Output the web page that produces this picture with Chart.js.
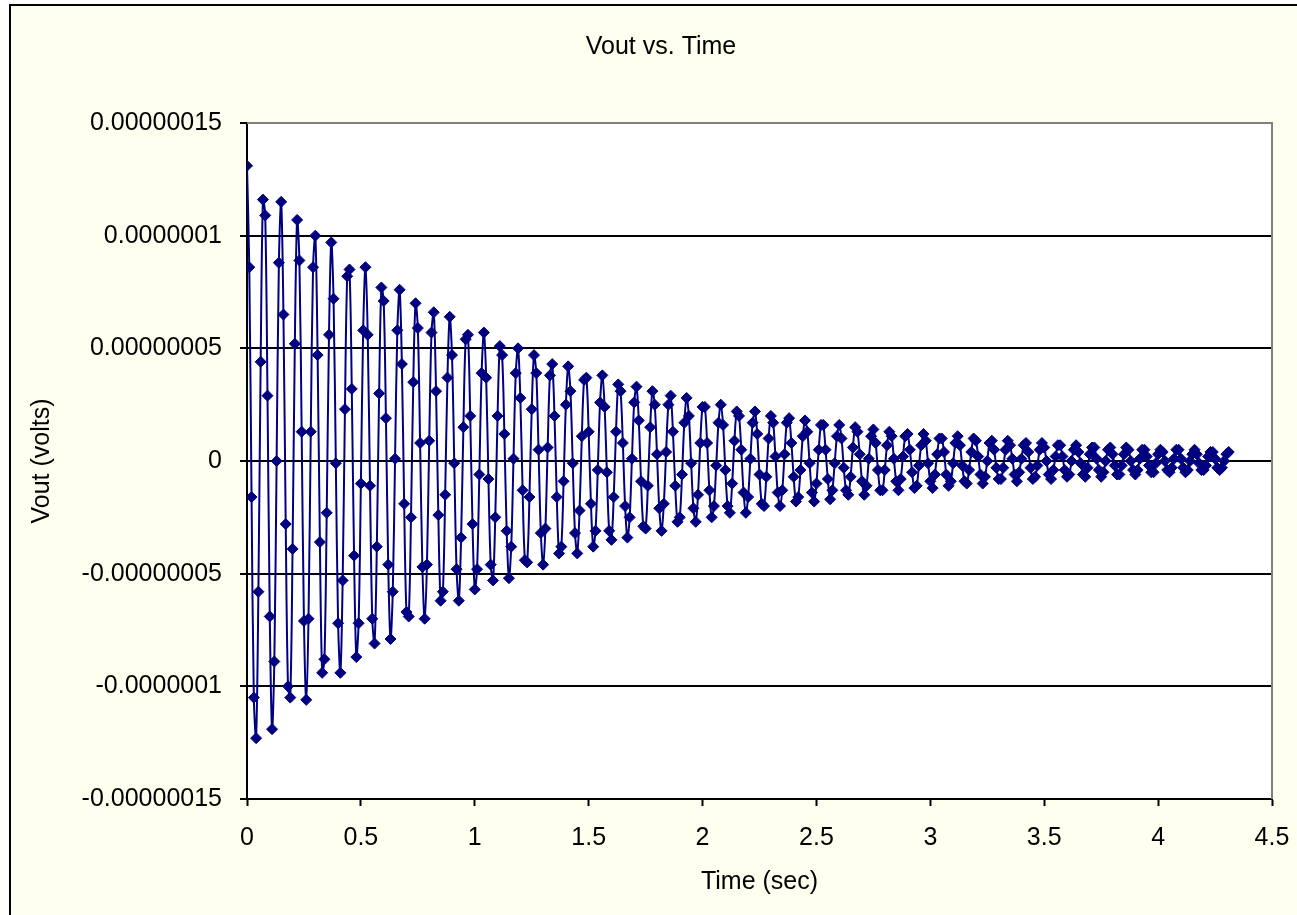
<!DOCTYPE html>
<html lang="en">
<head>
<meta charset="utf-8">
<title>Vout vs. Time</title>
<script src="https://cdn.jsdelivr.net/npm/chart.js@4.4.1/dist/chart.umd.min.js"></script>
<style>
  html, body { margin: 0; padding: 0; background: #ffffff; overflow: hidden; width: 1297px; height: 915px; }
  #frame {
    position: absolute; left: 9px; top: 4px;
    width: 1286px; height: 909px;
    border-left: 2px solid #000000;
    border-top: 2px solid #000000;
    background: #fffff0;
    overflow: hidden;
  }
  #chart { display: block; }
</style>
</head>
<body>
<div id="frame"><canvas id="chart" width="1300" height="930"></canvas></div>
<script>
// Sample times (s), one reading every 10 ms
const timeSec = [
  0, 0.01, 0.02, 0.03, 0.04, 0.05, 0.06, 0.07, 0.08, 0.09,
  0.1, 0.11, 0.12, 0.13, 0.14, 0.15, 0.16, 0.17, 0.18, 0.19,
  0.2, 0.21, 0.22, 0.23, 0.24, 0.25, 0.26, 0.27, 0.28, 0.29,
  0.3, 0.31, 0.32, 0.33, 0.34, 0.35, 0.36, 0.37, 0.38, 0.39,
  0.4, 0.41, 0.42, 0.43, 0.44, 0.45, 0.46, 0.47, 0.48, 0.49,
  0.5, 0.51, 0.52, 0.53, 0.54, 0.55, 0.56, 0.57, 0.58, 0.59,
  0.6, 0.61, 0.62, 0.63, 0.64, 0.65, 0.66, 0.67, 0.68, 0.69,
  0.7, 0.71, 0.72, 0.73, 0.74, 0.75, 0.76, 0.77, 0.78, 0.79,
  0.8, 0.81, 0.82, 0.83, 0.84, 0.85, 0.86, 0.87, 0.88, 0.89,
  0.9, 0.91, 0.92, 0.93, 0.94, 0.95, 0.96, 0.97, 0.98, 0.99,
  1, 1.01, 1.02, 1.03, 1.04, 1.05, 1.06, 1.07, 1.08, 1.09,
  1.1, 1.11, 1.12, 1.13, 1.14, 1.15, 1.16, 1.17, 1.18, 1.19,
  1.2, 1.21, 1.22, 1.23, 1.24, 1.25, 1.26, 1.27, 1.28, 1.29,
  1.3, 1.31, 1.32, 1.33, 1.34, 1.35, 1.36, 1.37, 1.38, 1.39,
  1.4, 1.41, 1.42, 1.43, 1.44, 1.45, 1.46, 1.47, 1.48, 1.49,
  1.5, 1.51, 1.52, 1.53, 1.54, 1.55, 1.56, 1.57, 1.58, 1.59,
  1.6, 1.61, 1.62, 1.63, 1.64, 1.65, 1.66, 1.67, 1.68, 1.69,
  1.7, 1.71, 1.72, 1.73, 1.74, 1.75, 1.76, 1.77, 1.78, 1.79,
  1.8, 1.81, 1.82, 1.83, 1.84, 1.85, 1.86, 1.87, 1.88, 1.89,
  1.9, 1.91, 1.92, 1.93, 1.94, 1.95, 1.96, 1.97, 1.98, 1.99,
  2, 2.01, 2.02, 2.03, 2.04, 2.05, 2.06, 2.07, 2.08, 2.09,
  2.1, 2.11, 2.12, 2.13, 2.14, 2.15, 2.16, 2.17, 2.18, 2.19,
  2.2, 2.21, 2.22, 2.23, 2.24, 2.25, 2.26, 2.27, 2.28, 2.29,
  2.3, 2.31, 2.32, 2.33, 2.34, 2.35, 2.36, 2.37, 2.38, 2.39,
  2.4, 2.41, 2.42, 2.43, 2.44, 2.45, 2.46, 2.47, 2.48, 2.49,
  2.5, 2.51, 2.52, 2.53, 2.54, 2.55, 2.56, 2.57, 2.58, 2.59,
  2.6, 2.61, 2.62, 2.63, 2.64, 2.65, 2.66, 2.67, 2.68, 2.69,
  2.7, 2.71, 2.72, 2.73, 2.74, 2.75, 2.76, 2.77, 2.78, 2.79,
  2.8, 2.81, 2.82, 2.83, 2.84, 2.85, 2.86, 2.87, 2.88, 2.89,
  2.9, 2.91, 2.92, 2.93, 2.94, 2.95, 2.96, 2.97, 2.98, 2.99,
  3, 3.01, 3.02, 3.03, 3.04, 3.05, 3.06, 3.07, 3.08, 3.09,
  3.1, 3.11, 3.12, 3.13, 3.14, 3.15, 3.16, 3.17, 3.18, 3.19,
  3.2, 3.21, 3.22, 3.23, 3.24, 3.25, 3.26, 3.27, 3.28, 3.29,
  3.3, 3.31, 3.32, 3.33, 3.34, 3.35, 3.36, 3.37, 3.38, 3.39,
  3.4, 3.41, 3.42, 3.43, 3.44, 3.45, 3.46, 3.47, 3.48, 3.49,
  3.5, 3.51, 3.52, 3.53, 3.54, 3.55, 3.56, 3.57, 3.58, 3.59,
  3.6, 3.61, 3.62, 3.63, 3.64, 3.65, 3.66, 3.67, 3.68, 3.69,
  3.7, 3.71, 3.72, 3.73, 3.74, 3.75, 3.76, 3.77, 3.78, 3.79,
  3.8, 3.81, 3.82, 3.83, 3.84, 3.85, 3.86, 3.87, 3.88, 3.89,
  3.9, 3.91, 3.92, 3.93, 3.94, 3.95, 3.96, 3.97, 3.98, 3.99,
  4, 4.01, 4.02, 4.03, 4.04, 4.05, 4.06, 4.07, 4.08, 4.09,
  4.1, 4.11, 4.12, 4.13, 4.14, 4.15, 4.16, 4.17, 4.18, 4.19,
  4.2, 4.21, 4.22, 4.23, 4.24, 4.25, 4.26, 4.27, 4.28, 4.29,
  4.3, 4.31
];

// Output voltage (V) at each sample time
const vout = [
  131e-9, 86e-9, -16e-9, -105e-9, -123e-9, -58e-9, 44e-9, 116e-9, 109e-9, 29e-9, -69e-9, -119e-9, -89e-9, 0, 88e-9,
  115e-9, 65e-9, -28e-9, -100e-9, -105e-9, -39e-9, 52e-9, 107e-9, 89e-9, 13e-9, -71e-9, -106e-9, -70e-9, 13e-9, 86e-9,
  100e-9, 47e-9, -36e-9, -94e-9, -88e-9, -23e-9, 56e-9, 97e-9, 72e-9, -1e-9, -72e-9, -94e-9, -53e-9, 23e-9, 82e-9,
  85e-9, 32e-9, -42e-9, -87e-9, -72e-9, -10e-9, 58e-9, 86e-9, 56e-9, -11e-9, -70e-9, -81e-9, -38e-9, 30e-9, 77e-9,
  71e-9, 19e-9, -46e-9, -79e-9, -58e-9, 1e-9, 58e-9, 76e-9, 43e-9, -19e-9, -67e-9, -69e-9, -25e-9, 35e-9, 70e-9,
  59e-9, 8e-9, -47e-9, -70e-9, -46e-9, 9e-9, 57e-9, 66e-9, 31e-9, -24e-9, -62e-9, -58e-9, -15e-9, 37e-9, 64e-9,
  47e-9, -1e-9, -48e-9, -62e-9, -34e-9, 15e-9, 54e-9, 56e-9, 20e-9, -28e-9, -57e-9, -48e-9, -6e-9, 39e-9, 57e-9,
  37e-9, -8e-9, -46e-9, -53e-9, -25e-9, 20e-9, 51e-9, 47e-9, 12e-9, -31e-9, -52e-9, -38e-9, 1e-9, 39e-9, 50e-9,
  28e-9, -13e-9, -44e-9, -45e-9, -16e-9, 23e-9, 47e-9, 39e-9, 5e-9, -32e-9, -46e-9, -30e-9, 6e-9, 38e-9, 43e-9,
  20e-9, -16e-9, -41e-9, -38e-9, -9e-9, 25e-9, 42e-9, 31e-9, -1e-9, -32e-9, -41e-9, -22e-9, 11e-9, 36e-9, 37e-9,
  13e-9, -19e-9, -38e-9, -31e-9, -4e-9, 26e-9, 38e-9, 24e-9, -5e-9, -31e-9, -35e-9, -16e-9, 13e-9, 34e-9, 31e-9,
  8e-9, -20e-9, -34e-9, -25e-9, 1e-9, 26e-9, 33e-9, 18e-9, -9e-9, -29e-9, -30e-9, -11e-9, 15e-9, 31e-9, 25e-9,
  3e-9, -21e-9, -31e-9, -19e-9, 4e-9, 25e-9, 29e-9, 13e-9, -11e-9, -27e-9, -25e-9, -6e-9, 17e-9, 28e-9, 20e-9,
  -1e-9, -21e-9, -27e-9, -15e-9, 8e-9, 24e-9, 24e-9, 8e-9, -13e-9, -25e-9, -20e-9, -2e-9, 17e-9, 25e-9, 16e-9,
  -4e-9, -20e-9, -23e-9, -10e-9, 9e-9, 22e-9, 20e-9, 5e-9, -14e-9, -23e-9, -16e-9, 1e-9, 17e-9, 22e-9, 12e-9,
  -6e-9, -19e-9, -20e-9, -7e-9, 10e-9, 20e-9, 17e-9, 2e-9, -14e-9, -20e-9, -13e-9, 3e-9, 17e-9, 19e-9, 8e-9,
  -7e-9, -18e-9, -16e-9, -4e-9, 11e-9, 18e-9, 13e-9, -1e-9, -14e-9, -18e-9, -10e-9, 5e-9, 16e-9, 16e-9, 5e-9,
  -8e-9, -17e-9, -13e-9, -1e-9, 11e-9, 16e-9, 10e-9, -3e-9, -13e-9, -15e-9, -7e-9, 6e-9, 15e-9, 13e-9, 3e-9,
  -9e-9, -15e-9, -11e-9, 1e-9, 11e-9, 14e-9, 8e-9, -4e-9, -13e-9, -13e-9, -4e-9, 7e-9, 13e-9, 11e-9, 1e-9,
  -9e-9, -13e-9, -8e-9, 2e-9, 11e-9, 12e-9, 5e-9, -5e-9, -12e-9, -11e-9, -2e-9, 7e-9, 12e-9, 9e-9, -1e-9,
  -9e-9, -12e-9, -6e-9, 3e-9, 10e-9, 10e-9, 4e-9, -6e-9, -11e-9, -9e-9, -1e-9, 8e-9, 11e-9, 7e-9, -2e-9,
  -9e-9, -10e-9, -4e-9, 4e-9, 10e-9, 9e-9, 2e-9, -6e-9, -10e-9, -7e-9, 0, 8e-9, 9e-9, 5e-9, -3e-9,
  -8e-9, -8e-9, -3e-9, 5e-9, 9e-9, 7e-9, 1e-9, -6e-9, -9e-9, -5e-9, 1e-9, 7e-9, 8e-9, 4e-9, -3e-9,
  -8e-9, -7e-9, -2e-9, 5e-9, 8e-9, 6e-9, 0, -6e-9, -8e-9, -4e-9, 2e-9, 7e-9, 7e-9, 2e-9, -4e-9,
  -7e-9, -6e-9, 0, 5e-9, 7e-9, 4e-9, -1e-9, -6e-9, -7e-9, -3e-9, 3e-9, 6e-9, 6e-9, 1e-9, -4e-9,
  -7e-9, -5e-9, 0, 5e-9, 6e-9, 3e-9, -2e-9, -6e-9, -6e-9, -2e-9, 3e-9, 6e-9, 5e-9, 0, -4e-9,
  -6e-9, -4e-9, 1e-9, 5e-9, 5e-9, 2e-9, -2e-9, -5e-9, -5e-9, -1e-9, 3e-9, 5e-9, 4e-9, 0, -4e-9,
  -5e-9, -3e-9, 1e-9, 5e-9, 5e-9, 1e-9, -3e-9, -5e-9, -4e-9, 0, 3e-9, 5e-9, 3e-9, -1e-9, -4e-9,
  -4e-9, -2e-9, 2e-9, 4e-9, 4e-9, 1e-9, -3e-9, -4e-9, -3e-9, 0, 3e-9, 4e-9
];

const xTickLabels = ['0', '0.5', '1', '1.5', '2', '2.5', '3', '3.5', '4', '4.5'];
const yTickLabels = ['-0.00000015', '-0.0000001', '-0.00000005', '0', '0.00000005', '0.0000001', '0.00000015'];

const FONT_FAMILY = '"Liberation Sans", Arial, Helvetica, sans-serif';
const LINE_COLOR = '#000080';

Chart.defaults.font.family = FONT_FAMILY;
Chart.defaults.font.size = 25;
Chart.defaults.color = '#000000';

// White plot area with a grey frame on its top and right sides
const plotFrame = {
  id: 'plotFrame',
  beforeDraw(chart) {
    const { ctx, chartArea: a } = chart;
    ctx.save();
    ctx.fillStyle = '#ffffff';
    ctx.fillRect(a.left, a.top, a.right - a.left, a.bottom - a.top);
    ctx.restore();
  },
  beforeDatasetsDraw(chart) {
    const { ctx, chartArea: a } = chart;
    ctx.save();
    ctx.strokeStyle = '#808080';
    ctx.lineWidth = 2;
    ctx.beginPath();
    ctx.moveTo(a.left, a.top);
    ctx.lineTo(a.right, a.top);
    ctx.lineTo(a.right, a.bottom);
    ctx.stroke();
    ctx.restore();
  }
};

const points = timeSec.map((t, i) => ({ x: t, y: vout[i] }));

new Chart(document.getElementById('chart'), {
  type: 'line',
  data: {
    datasets: [{
      label: 'Vout',
      data: points,
      xAxisID: 'x',
      yAxisID: 'y',
      borderColor: LINE_COLOR,
      borderWidth: 2,
      tension: 0.33,
      fill: false,
      pointStyle: 'rectRot',
      pointRadius: 5.5,
      pointBackgroundColor: LINE_COLOR,
      pointBorderColor: LINE_COLOR,
      pointBorderWidth: 1
    }]
  },
  options: {
    responsive: false,
    animation: false,
    devicePixelRatio: 1,
    layout: { padding: { top: 0, left: 0, right: 0, bottom: 27 } },
    plugins: {
      legend: { display: false },
      tooltip: { enabled: false },
      title: {
        display: true,
        text: 'Vout vs. Time',
        color: '#000000',
        font: { size: 25, weight: 'normal' },
        padding: { top: 26, bottom: 61 }
      }
    },
    scales: {
      y: {
        type: 'linear',
        position: 'left',
        min: -1.5e-7,
        max: 1.5e-7,
        ticks: {
          stepSize: 5e-8,
          padding: 18,
          color: '#000000',
          callback: (value, index) => yTickLabels[index]
        },
        grid: {
          color: (ctx) => (ctx.index === yTickLabels.length - 1 ? '#808080' : '#000000'),
          lineWidth: 2,
          drawTicks: true,
          tickLength: 7,
          tickColor: '#000000',
          tickWidth: 2
        },
        border: { display: true, color: '#000000', width: 2 },
        title: {
          display: true,
          text: 'Vout (volts)',
          color: '#000000',
          padding: { top: 16, bottom: 0 }
        },
        afterFit(scale) { scale.width = 236; }
      },
      x: {
        type: 'linear',
        position: 'bottom',
        min: 0,
        max: 4.5,
        ticks: {
          stepSize: 0.5,
          autoSkip: false,
          maxRotation: 0,
          padding: 17,
          color: '#000000',
          callback: (value, index) => xTickLabels[index]
        },
        grid: {
          display: true,
          drawOnChartArea: false,
          drawTicks: true,
          tickLength: 7,
          tickColor: '#000000',
          tickWidth: 2
        },
        border: { display: true, color: '#000000', width: 2 },
        title: {
          display: true,
          text: 'Time (sec)',
          color: '#000000',
          padding: { top: 0, bottom: 12 }
        },
        afterFit(scale) { scale.height = 110; }
      },
      yRightSpace: {
        type: 'linear',
        position: 'right',
        display: true,
        ticks: { display: false },
        grid: { display: false, drawTicks: false },
        border: { display: false },
        title: { display: false },
        afterFit(scale) { scale.width = 39; }
      }
    }
  },
  plugins: [plotFrame]
});
</script>
</body>
</html>
